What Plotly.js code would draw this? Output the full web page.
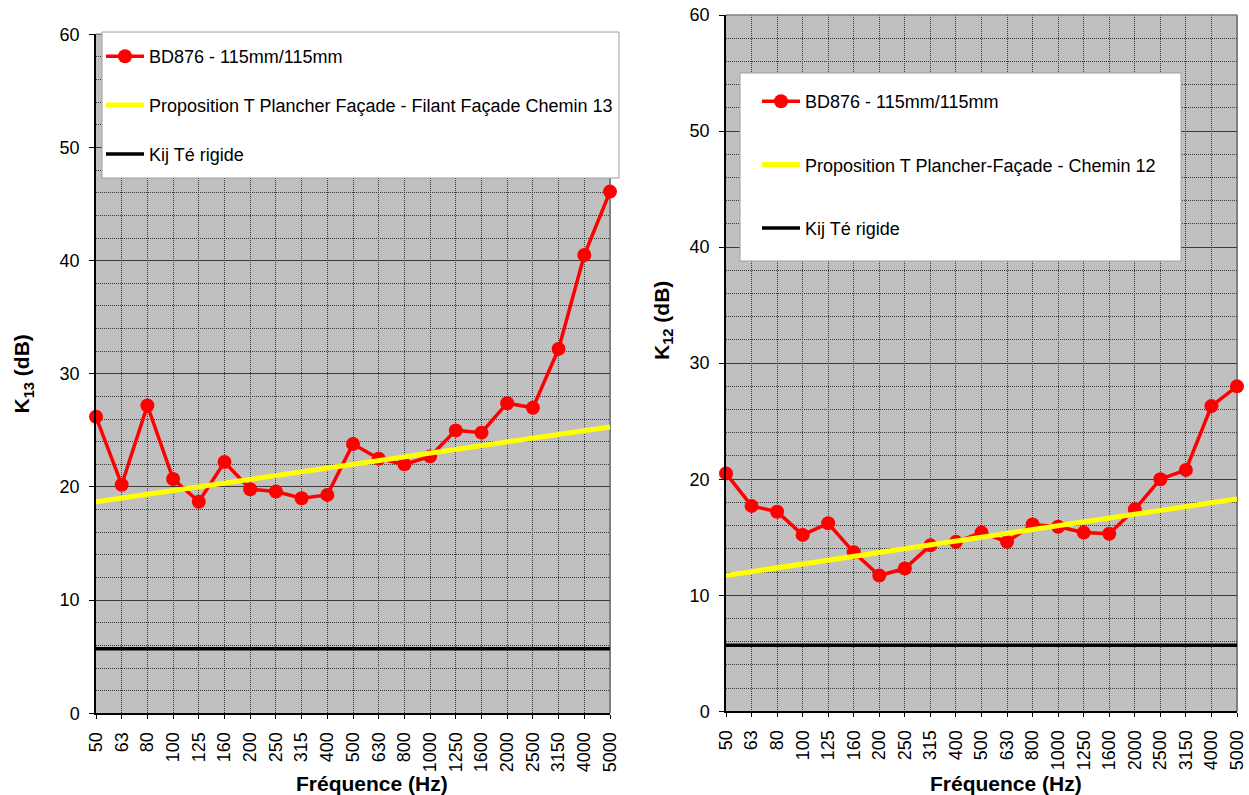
<!DOCTYPE html>
<html>
<head>
<meta charset="utf-8">
<script src="https://cdn.plot.ly/plotly-3.0.1.min.js"></script>
<style>html,body{margin:0;padding:0;background:#fff;}#chart{width:1249px;height:795px;}</style>
</head>
<body>
<div id="chart"></div>
<script>
// ---- data ----
var freqs = ['50','63','80','100','125','160','200','250','315','400','500','630','800','1000','1250','1600','2000','2500','3150','4000','5000'];
var k13Measured = [26.2,20.2,27.2,20.7,18.7,22.2,19.8,19.6,19.0,19.3,23.8,22.5,22.0,22.7,25.0,24.8,27.4,27.0,32.2,40.5,46.1];
var k12Measured = [20.5,17.7,17.2,15.2,16.2,13.7,11.7,12.3,14.3,14.6,15.4,14.6,16.1,15.9,15.4,15.3,17.4,20.0,20.8,26.3,28.0];
var propEnds = ['50','5000'];
var prop13 = [18.7, 25.3];
var prop12 = [11.7, 18.3];
var kijRigid = [5.7, 5.7];

var nameMeasured = 'BD876 - 115mm/115mm';
var nameProp13 = 'Proposition T Plancher Façade - Filant Façade Chemin 13';
var nameProp12 = 'Proposition T Plancher-Façade - Chemin 12';
var nameKij = 'Kij Té rigide';
var xTitle = 'Fréquence (Hz)';
var yTitle13 = 'K<sub>13</sub> (dB)';
var yTitle12 = 'K<sub>12</sub> (dB)';

// ---- geometry helpers (pixels -> paper) ----
var W = 1249, H = 795;
function px(x){return x / W;}
function py(y){return 1 - y / H;}

var FONT = '"Liberation Sans", Arial, sans-serif';
var GRID = '#3a3a3a';
var TITLEFONT = {family: FONT, size: 21, color: '#000', weight: 'bold'};

var traces = [
  {x: freqs, y: k13Measured, name: nameMeasured, type: 'scatter', mode: 'lines+markers',
   line: {color: '#FF0000', width: 3.5}, marker: {color: '#FF0000', size: 14},
   cliponaxis: false, xaxis: 'x', yaxis: 'y', legend: 'legend', legendgroup: 'a'},
  {x: propEnds, y: prop13, name: nameProp13, type: 'scatter', mode: 'lines',
   line: {color: '#FFFF00', width: 5}, xaxis: 'x', yaxis: 'y', legend: 'legend', legendgroup: 'b'},
  {x: propEnds, y: kijRigid, name: nameKij, type: 'scatter', mode: 'lines',
   line: {color: '#000000', width: 3.5}, xaxis: 'x', yaxis: 'y', legend: 'legend', legendgroup: 'c'},
  {x: freqs, y: k12Measured, name: nameMeasured, type: 'scatter', mode: 'lines+markers',
   line: {color: '#FF0000', width: 3.5}, marker: {color: '#FF0000', size: 14},
   cliponaxis: false, xaxis: 'x2', yaxis: 'y2', legend: 'legend2', legendgroup: 'd'},
  {x: propEnds, y: prop12, name: nameProp12, type: 'scatter', mode: 'lines',
   line: {color: '#FFFF00', width: 5}, xaxis: 'x2', yaxis: 'y2', legend: 'legend2', legendgroup: 'e'},
  {x: propEnds, y: kijRigid, name: nameKij, type: 'scatter', mode: 'lines',
   line: {color: '#000000', width: 3.5}, xaxis: 'x2', yaxis: 'y2', legend: 'legend2', legendgroup: 'f'}
];

function xAxis(domain, anchor){
  return {
    domain: domain, anchor: anchor, type: 'category', categoryorder: 'array', categoryarray: freqs,
    range: [0, freqs.length - 1], tickangle: -90,
    tickfont: {family: FONT, size: 18, color: '#000'},
    ticks: 'outside', ticklen: 4, tickcolor: '#000', ticklabelstandoff: 6,
    showline: true, linecolor: '#000', linewidth: 1.5,
    showgrid: true, gridcolor: GRID, gridwidth: 1, griddash: '1px,1px',
    zeroline: false, automargin: false, fixedrange: true
  };
}
function yAxis(domain, anchor){
  return {
    domain: domain, anchor: anchor, range: [0, 60], dtick: 10, tick0: 0,
    tickfont: {family: FONT, size: 18, color: '#000'},
    ticks: 'outside', ticklen: 5, tickcolor: '#000', ticklabelstandoff: 6,
    showline: true, linecolor: '#000', linewidth: 1.5,
    showgrid: true, gridcolor: GRID, gridwidth: 1,
    minor: {dtick: 2, showgrid: true, gridcolor: GRID, gridwidth: 1, griddash: '1px,1px'},
    zeroline: false, automargin: false, fixedrange: true
  };
}

var legendCommon = {
  bgcolor: 'rgba(0,0,0,0)', borderwidth: 0, xanchor: 'left', yanchor: 'top',
  font: {family: FONT, size: 18, color: '#000'}, itemwidth: 38, traceorder: 'grouped',
  itemclick: false, itemdoubleclick: false
};

var yax1 = yAxis([py(713.3), py(34.3)], 'x');
yax1.title = {text: yTitle13, font: TITLEFONT, standoff: 24};

var layout = {
  width: W, height: H, margin: {l: 0, r: 0, t: 0, b: 0},
  paper_bgcolor: '#ffffff', plot_bgcolor: '#C0C0C0',
  font: {family: FONT, color: '#000'},
  showlegend: true,
  xaxis: xAxis([px(96), px(610)], 'y'),
  yaxis: yax1,
  xaxis2: xAxis([px(726), px(1237)], 'y2'),
  yaxis2: yAxis([py(711.3), py(15)], 'x2'),
  legend: Object.assign({}, legendCommon, {x: px(101), y: py(38), tracegroupgap: 22.5}),
  legend2: Object.assign({}, legendCommon, {x: px(757), y: py(83), tracegroupgap: 37}),
  annotations: [
    {text: yTitle12, xref: 'paper', yref: 'paper', x: px(663), y: py(321),
     textangle: -90, showarrow: false, xanchor: 'center', yanchor: 'middle', font: TITLEFONT},
    {text: xTitle, xref: 'paper', yref: 'paper', x: px(372), y: py(783),
     showarrow: false, xanchor: 'center', yanchor: 'middle', font: TITLEFONT},
    {text: xTitle, xref: 'paper', yref: 'paper', x: px(1006), y: py(783),
     showarrow: false, xanchor: 'center', yanchor: 'middle', font: TITLEFONT}
  ],
  shapes: [
    // plot frame top/right (grey)
    {type: 'line', xref: 'x domain', yref: 'y domain', x0: 0, x1: 1, y0: 1, y1: 1, line: {color: '#808080', width: 1.5}, layer: 'above'},
    {type: 'line', xref: 'x domain', yref: 'y domain', x0: 1, x1: 1, y0: 0, y1: 1, line: {color: '#808080', width: 2}, layer: 'below'},
    {type: 'line', xref: 'x2 domain', yref: 'y2 domain', x0: 0, x1: 1, y0: 1, y1: 1, line: {color: '#808080', width: 1.5}, layer: 'above'},
    {type: 'line', xref: 'x2 domain', yref: 'y2 domain', x0: 1, x1: 1, y0: 0, y1: 1, line: {color: '#808080', width: 2}, layer: 'below'},
    // legend boxes
    {type: 'rect', xref: 'paper', yref: 'paper', x0: px(102), x1: px(619), y0: py(178), y1: py(32),
     fillcolor: '#ffffff', line: {color: '#A0A0A0', width: 1}, layer: 'above'},
    {type: 'rect', xref: 'paper', yref: 'paper', x0: px(740), x1: px(1181), y0: py(261), y1: py(73),
     fillcolor: '#ffffff', line: {color: '#A0A0A0', width: 1}, layer: 'above'}
  ]
};

Plotly.newPlot('chart', traces, layout, {displayModeBar: false, responsive: false});
</script>
</body>
</html>
